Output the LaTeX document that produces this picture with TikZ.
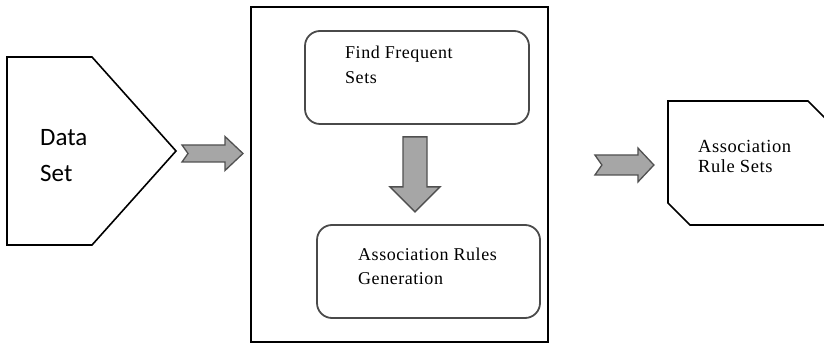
\documentclass[tikz,border=0pt]{standalone}
\usepackage{fontspec}
\setmainfont{Liberation Serif}[LetterSpace=3]
\newfontfamily\labelfont{Carlito}
\usetikzlibrary{calc}
\definecolor{arrowfill}{HTML}{A6A6A6}
\definecolor{arrowline}{HTML}{505050}
\definecolor{boxline}{HTML}{4A4A4A}
% fat block arrow: #1 length, #2 notch, #3 head length, #4 half shaft, #5 half head
\tikzset{pics/fat arrow/.style n args={5}{code={
            \path [draw, pic actions] (0,-#4) --
            ({#1-#3},-#4) --
            ({#1-#3},-#5) --
            (#1,0) --
            ({#1-#3},#5) --
            ({#1-#3},#4) --
            (0,#4) --
            (#2,0) -- cycle;
        }
    }
}
\tikzset{blockarrow/.style={fill=arrowfill, draw=arrowline, line width=1.3pt, line join=miter},
    stepbox/.style={draw=boxline, line width=1.8pt, rounded corners=15pt},
    caption/.style={anchor=north west, inner sep=0pt, align=left}
}

\begin{document}
\begin{tikzpicture}[x=1pt, y=-1pt]
        \useasboundingbox (0,0) rectangle (824,344);

        % input data
        \draw [line width=1.6pt, line join=miter] (7,57) -- (92,57) -- (176,151) coordinate (data tip) --
            (92,245) -- (7,245) -- cycle;
        \node [caption, font=\labelfont\fontsize{25}{36}\selectfont] (data label) at (40,129) {Data\\Set};

        % mining stage
        \node [draw, line width=1.8pt, minimum width=297pt, minimum height=335pt, inner sep=0pt] (frame) at (399.5,174.5) {};
        \node [stepbox, minimum width=224pt, minimum height=93pt] (find) at (417,77.5) {};
        \node [stepbox, minimum width=223pt, minimum height=93pt] (gen) at (428.5,271.5) {};
        \node [caption, font=\fontsize{18}{25}\selectfont] (find label) at (345,46) {Find Frequent\\Sets};
        \node [caption, font=\fontsize{18}{24}\selectfont] (gen label) at (358,248) {Association Rules\\Generation};

        % output rules, cut by the page edge
        \begin{scope}
            \clip (0,0) rectangle (824,344);
            \draw [line width=1.6pt, line join=miter] (668,101) coordinate (rules west) -- (808,101) -- (848,141) --
                (848,225) -- (690,225) -- (668,203) -- cycle;
        \end{scope}
        \node [caption, font=\fontsize{18.5}{20}\selectfont] (rules label) at (698,140) {Association\\Rule Sets};

        % arrows
        \path ($(data tip)+(6,2.5)$) pic [blockarrow] {fat arrow={61}{6}{18}{8.5}{17}};
        \path ($(frame.east)+(46,-9.5)$) pic [blockarrow] {fat arrow={59}{7}{16}{10}{17}};
        \path ($(find.south)+(-2,12)$) pic [blockarrow, rotate=-90] {fat arrow={75}{0}{25}{12}{25}};
    \end{tikzpicture}
\end{document}
